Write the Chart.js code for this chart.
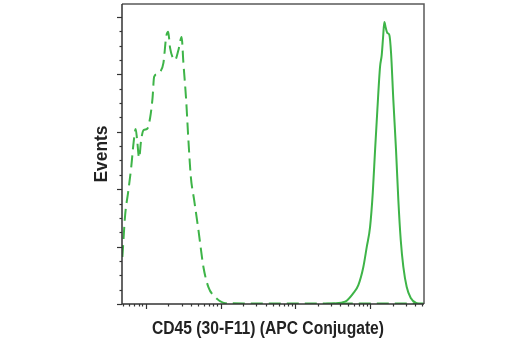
<!DOCTYPE html>
<html>
<head>
<meta charset="utf-8">
<script src="https://cdn.jsdelivr.net/npm/chart.js@4.4.0/dist/chart.umd.min.js"></script>
<style>
  body { margin: 0; background: #fff; }
</style>
</head>
<body>
<canvas id="myChart" width="520" height="350"></canvas>
<script>
// isotype control histogram (dashed)
var controlX = [4.86, 5.29, 5.80, 6.36, 6.87, 7.31, 7.65, 8.13, 8.65, 9.35, 10.4, 11.4, 12.3, 12.9, 14.2, 15.5,
  17.2, 18.7, 19.9, 21.1, 23.0, 24.6, 27.3, 30.1, 31.8, 34.6, 37.1, 40.0, 44.3, 50.5, 58.9, 68.7, 84.4, 115,
  200, 500, 1000, 3000, 10000, 30000, 52000];
var controlY = [16.4, 31.0, 39.0, 47.4, 56.4, 61.0, 57.1, 50.9, 57.1, 60.6, 61.0, 64.8, 71.8, 79.1, 80.1, 80.8,
  84.0, 93.0, 94.8, 89.2, 85.7, 85.0, 88.5, 93.0, 84.0, 71.1, 57.1, 44.2, 36.2, 25.8, 12.9, 5.9, 2.4, 0.3,
  0.2, 0.2, 0.2, 0.2, 0.2, 0.2, 0.2];

// CD45 stained cells (solid)
var cd45X = [2500, 3221, 4617, 5958, 6950, 8110, 9010, 9970, 10840, 11640, 12480, 13560, 14290, 14900, 15480,
  16170, 16980, 18060, 19030, 20420, 22180, 23820, 25650, 27790, 30830, 34890, 41980, 46450];
var cd45Y = [0, 0.2, 0.8, 3.8, 6.6, 12.9, 19.9, 26.8, 38.7, 53.7, 67.6, 82.6, 86.8, 93.0, 98.2,
  96.2, 94.4, 93.7, 87.5, 71.1, 53.7, 36.2, 22.3, 12.9, 5.9, 2.1, 0.2, 0];

var xMin = 4.8, xMax = 52500;
var yMax = 104.5;
var yMajorStep = 20, yMinorStep = 5;
var xDecades = [1, 10, 100, 1000, 10000];

var xTitle = 'CD45 (30-F11) (APC Conjugate)';
var yTitle = 'Events';

var green = 'rgb(62,180,72)';

function toPoints(xs, ys) {
  var pts = [];
  for (var i = 0; i < xs.length; i++) pts.push({ x: xs[i], y: ys[i] });
  return pts;
}

// bold condensed text, squeezed to a given width
function narrowText(ctx, text, cx, cy, width) {
  ctx.save();
  ctx.font = 'bold 18px "Liberation Sans", Arial, sans-serif';
  var w = ctx.measureText(text).width;
  ctx.translate(cx, cy);
  ctx.scale(width / w, 1);
  ctx.fillText(text, 0, 0);
  ctx.restore();
}

// frame, tick marks and axis titles
var axisDecor = {
  id: 'axisDecor',
  afterDraw: function (chart) {
    var ctx = chart.ctx;
    var a = chart.chartArea;
    var xs = chart.scales.x, ys = chart.scales.y;
    ctx.save();

    // top + right border
    ctx.strokeStyle = '#5a5a5a';
    ctx.lineWidth = 1.5;
    ctx.beginPath();
    ctx.moveTo(a.left, a.top);
    ctx.lineTo(a.right, a.top);
    ctx.lineTo(a.right, a.bottom);
    ctx.stroke();

    // left + bottom axis
    ctx.strokeStyle = '#333';
    ctx.beginPath();
    ctx.moveTo(a.left, a.top);
    ctx.lineTo(a.left, a.bottom);
    ctx.lineTo(a.right, a.bottom);
    ctx.stroke();

    // y ticks, long every 20 and short every 5
    ctx.lineWidth = 1.2;
    for (var v = 0; v <= yMax; v += yMinorStep) {
      var py = Math.round(ys.getPixelForValue(v)) + 0.5;
      var len = (v % yMajorStep === 0) ? 5 : 2.5;
      ctx.beginPath();
      ctx.moveTo(a.left - len, py);
      ctx.lineTo(a.left, py);
      ctx.stroke();
    }

    // x ticks on log scale, long at decades
    for (var d = 0; d < xDecades.length; d++) {
      for (var m = 1; m <= 9; m++) {
        var val = xDecades[d] * m;
        if (val < xMin || val > xMax) continue;
        var px = Math.round(xs.getPixelForValue(val)) + 0.5;
        var tl = (m === 1) ? 5 : 2.5;
        ctx.beginPath();
        ctx.moveTo(px, a.bottom);
        ctx.lineTo(px, a.bottom + tl);
        ctx.stroke();
      }
    }

    // titles
    ctx.fillStyle = '#222';
    ctx.textAlign = 'center';
    ctx.textBaseline = 'alphabetic';
    narrowText(ctx, xTitle, 268, 334, 232);

    ctx.translate(107, (a.top + a.bottom) / 2);
    ctx.rotate(-Math.PI / 2);
    narrowText(ctx, yTitle, 0, 0, 57);
    ctx.restore();
  }
};

var ctx = document.getElementById('myChart').getContext('2d');
var chart = new Chart(ctx, {
  type: 'line',
  data: {
    datasets: [
      {
        label: 'Isotype control',
        data: toPoints(controlX, controlY),
        borderColor: green,
        borderWidth: 2,
        borderDash: [12, 6],
        pointRadius: 0,
        cubicInterpolationMode: 'monotone',
        fill: false
      },
      {
        label: 'CD45',
        data: toPoints(cd45X, cd45Y),
        borderColor: green,
        borderWidth: 2,
        pointRadius: 0,
        cubicInterpolationMode: 'monotone',
        fill: false
      }
    ]
  },
  options: {
    responsive: false,
    animation: false,
    layout: { padding: { left: 122, top: 4, right: 96, bottom: 46 } },
    plugins: {
      legend: { display: false },
      tooltip: { enabled: false }
    },
    scales: {
      x: {
        type: 'logarithmic',
        min: xMin,
        max: xMax,
        ticks: { display: false },
        grid: { display: false, drawTicks: false, tickLength: 0 },
        border: { display: false }
      },
      y: {
        type: 'linear',
        min: 0,
        max: yMax,
        ticks: { display: false },
        grid: { display: false, drawTicks: false, tickLength: 0 },
        border: { display: false }
      }
    }
  },
  plugins: [axisDecor]
});
</script>
</body>
</html>
